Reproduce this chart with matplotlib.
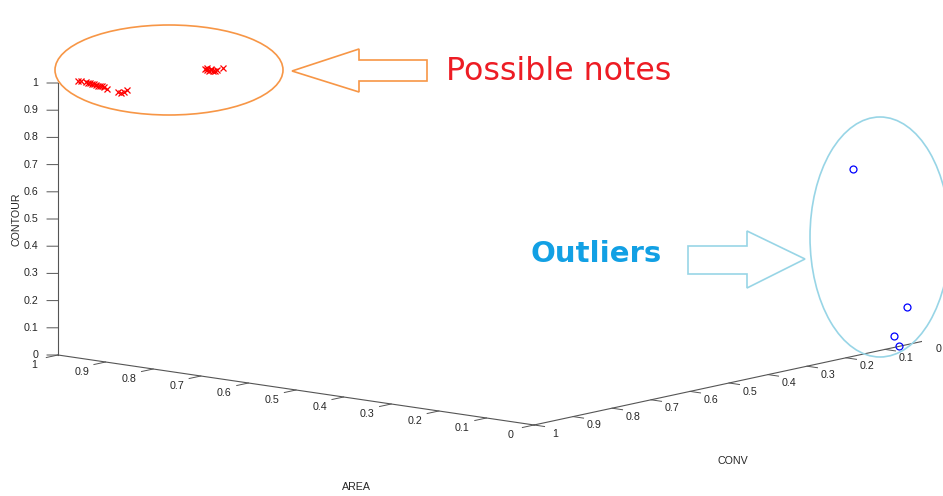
import numpy as np
import matplotlib
matplotlib.use("Agg")
import matplotlib.pyplot as plt
from matplotlib.patches import Ellipse, Polygon
from mpl_toolkits.mplot3d import proj3d

# ---------------- data ----------------
# possible notes (red crosses)
notes_area = [0.9895, 0.9852, 0.9708, 0.9625, 0.9572, 0.9518, 0.9493, 0.9410, 0.9356,
              0.9302, 0.9277, 0.9194, 0.9040, 0.8887, 0.8820, 0.8841, 0.8862,
              0.8976, 0.8893, 0.8810, 0.8843, 0.8760, 0.8735, 0.9009, 0.8930, 0.8769, 0.8810]
notes_conv = [0.9616, 0.9579, 0.9638, 0.9688, 0.9702, 0.9717, 0.9696, 0.9746, 0.9761,
              0.9775, 0.9755, 0.9805, 0.9914, 0.9820, 0.9824, 0.9723, 0.9620,
              0.7480, 0.7530, 0.7580, 0.7488, 0.7538, 0.7518, 0.7388, 0.7382, 0.7426, 0.7223]
notes_contour = [1.0, 1.0, 1.0, 1.0, 1.0, 1.0, 1.0, 1.0, 1.0,
                 1.0, 1.0, 1.0, 1.0, 0.99, 0.99, 0.99, 0.99,
                 1.0, 1.0, 1.0, 1.0, 1.0, 1.0, 1.0, 1.0, 1.0, 1.0]
# outliers (blue circles)
out_area = [0.01, 0.01, 0.01, 0.0]
out_conv = [0.169, 0.031, 0.064, 0.063]
out_contour = [0.682, 0.133, 0.036, 0.0]

tick_values = [0.0, 0.1, 0.2, 0.3, 0.4, 0.5, 0.6, 0.7, 0.8, 0.9, 1.0]
tick_labels = ['0', '0.1', '0.2', '0.3', '0.4', '0.5', '0.6', '0.7', '0.8', '0.9', '1']

W, H = 943, 496
fig = plt.figure(figsize=(W / 100, H / 100), dpi=100)
fig.patch.set_facecolor('white')

ax = fig.add_axes([0, 0, 1, 1], projection='3d', proj_type='ortho')
ax.view_init(elev=10.25, azim=129.56)
ax.set_box_aspect((617.5, 612.2, 276.4))
ax.set_xlim(0, 1)
ax.set_ylim(0, 1)
ax.set_zlim(0, 1)
ax.set_axis_off()

# ---------- fit axes position so the box lands where the reference has it ----------
fig.canvas.draw()
corners = np.array([[0, 0, 0], [1, 0, 0], [0, 1, 0], [0, 0, 1], [1, 1, 0], [1, 1, 1]], float)
targets_img = np.array([[924, 341], [448, 271], [534, 425], [924, 69], [58, 355], [58, 83]], float)
M = ax.get_proj()
xs, ys, _ = proj3d.proj_transform(corners[:, 0], corners[:, 1], corners[:, 2], M)
disp = ax.transData.transform(np.column_stack([xs, ys]))
uv = ax.transAxes.inverted().transform(disp)
A = []
b = []
for (u, v), (X, Y) in zip(uv, targets_img):
    A.append([1, 0, u]); b.append(X)
    A.append([0, 1, v]); b.append(H - Y)
L, B, S = np.linalg.lstsq(np.array(A), np.array(b), rcond=None)[0]
ax.set_position([L / W, B / H, S / W, S / H])
M = ax.get_proj()


def label3d(x, y, z, s, **kw):
    # place a plain 2D text at the projected position of a 3D point
    x2, y2, _ = proj3d.proj_transform(np.array([x]), np.array([y]), np.array([z]), M)
    ax.text2D(float(x2[0]), float(y2[0]), s, transform=ax.transData, **kw)


# ---------- axes (MATLAB-like) ----------
lc = '#555555'
tc = '#262626'
tfont = dict(family='Liberation Sans', size=7.7, color=tc)
ax.plot([0, 1], [1, 1], [0, 0], color=lc, lw=0.8)
ax.plot([0, 0], [0, 1], [0, 0], color=lc, lw=0.8)
ax.plot([1, 1], [1, 1], [0, 1], color=lc, lw=0.8)
for t, lab in zip(tick_values, tick_labels):
    ax.plot([t, t], [1, 1.03], [0, 0], color=lc, lw=0.7)
    label3d(t, 1.0615, -0.0178, lab, ha='center', va='center', **tfont)
    ax.plot([0, -0.022], [t, t], [0, 0], color=lc, lw=0.7)
    if t > 0:
        label3d(-0.0441, t, -0.0202, lab, ha='center', va='center', **tfont)
    else:
        label3d(-0.030, t, -0.0202, lab, ha='center', va='center', **tfont)
    ax.plot([1, 1.0137], [1, 1.0114], [t, t], color=lc, lw=0.7)
    label3d(1.0243, 1.0203, t, lab, ha='right', va='center', **tfont)

# ---------- data ----------
ax.plot(notes_area, notes_conv, notes_contour, linestyle='none', marker='x',
        color='#ff0000', ms=4.6, mew=0.9)
ax.plot(out_area, out_conv, out_contour, linestyle='none', marker='o',
        mfc='none', mec='#0000ff', ms=5, mew=0.9)

# ---------- axis labels ----------
def fx(x):
    return x / W


def fy(y):
    return 1 - y / H


lfont = dict(family='Liberation Sans', size=7.7, color=tc)
fig.text(fx(17), fy(219), 'CONTOUR', rotation=90, ha='center', va='center', **lfont)
fig.text(fx(356), fy(487), 'AREA', ha='center', va='center', **lfont)
fig.text(fx(733), fy(461), 'CONV', ha='center', va='center', **lfont)

# ---------- annotations ----------
orange = '#f79646'
cyan = '#98d5e6'
fig.add_artist(Ellipse((fx(169), fy(70)), 228 / W, 90 / H, transform=fig.transFigure,
                       fill=False, edgecolor=orange, lw=1.2))
arrow1 = [(292, 71), (359, 49), (359, 60), (427, 60), (427, 81), (359, 81), (359, 92)]
fig.add_artist(Polygon([(fx(x), fy(y)) for x, y in arrow1], closed=True,
                       transform=fig.transFigure, fill=False, edgecolor=orange, lw=1.2))
fig.text(fx(446), fy(80), 'Possible notes', ha='left', va='baseline',
         family='DejaVu Sans', size=22.8, color='#ed1c24')

fig.add_artist(Ellipse((fx(880), fy(237)), 140 / W, 240 / H, transform=fig.transFigure,
                       fill=False, edgecolor=cyan, lw=1.2))
arrow2 = [(688, 246), (747, 246), (747, 231), (805, 259), (747, 288), (747, 274), (688, 274)]
fig.add_artist(Polygon([(fx(x), fy(y)) for x, y in arrow2], closed=True,
                       transform=fig.transFigure, fill=False, edgecolor=cyan, lw=1.2))
fig.text(fx(530), fy(262), 'Outliers', ha='left', va='baseline',
         family='DejaVu Sans', weight='bold', size=21, color='#12a0e4')

fig.savefig('out.png', dpi=100)
